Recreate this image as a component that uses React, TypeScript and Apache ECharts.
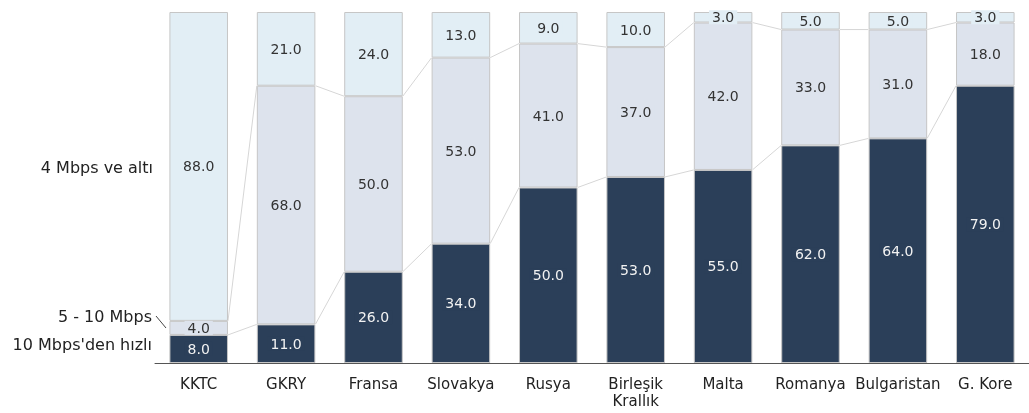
import React, { useEffect, useRef } from "react";
import * as echarts from "echarts";

const categories = ["KKTC", "GKRY", "Fransa", "Slovakya", "Rusya", "Birleşik\nKrallık", "Malta", "Romanya", "Bulgaristan", "G. Kore"];
const fast = [8, 11, 26, 34, 50, 53, 55, 62, 64, 79];
const medium = [4, 68, 50, 53, 41, 37, 42, 33, 31, 18];
const slow = [88, 21, 24, 13, 9, 10, 3, 5, 5, 3];
const seriesNames = ["10 Mbps'den hızlı", "5 - 10 Mbps", "4 Mbps ve altı"];

const FONT = "DejaVu Sans";
const DARK = "#2B3F59";
const MID = "#DDE3ED";
const LIGHT = "#E2EEF5";

export default function App() {
  const ref = useRef<HTMLDivElement>(null);
  useEffect(() => {
    const chart = echarts.init(ref.current!, undefined, { renderer: "svg" });
    const barFrac = 0.67;
    const mkLabel = (bg: string, color: string) => ({
      show: true,
      position: "inside",
      formatter: (p: any) => Number(p.value).toFixed(1),
      fontFamily: FONT,
      fontSize: 14,
      color,
      backgroundColor: bg,
      padding: [0, 3],
    });
    const barStyle = (c: string) => ({ color: c, borderColor: "#C6C6C6", borderWidth: 1 });
    const connectors = categories.slice(0, -1).map((_, i) => [i]);
    chart.setOption({
      animation: false,
      grid: { left: 155, top: 12, width: 882, height: 351 },
      xAxis: {
        type: "category",
        data: categories,
        axisLine: { lineStyle: { color: "#555", width: 1 } },
        axisTick: { show: false },
        axisLabel: { fontFamily: FONT, fontSize: 15, color: "#222", margin: 12, lineHeight: 17, interval: 0 },
      },
      yAxis: { type: "value", min: 0, max: 100, show: false },
      series: [
        { name: seriesNames[0], type: "bar", stack: "a", barWidth: "67%", data: fast, itemStyle: barStyle(DARK), label: mkLabel(DARK, "#F2F2F2") },
        { name: seriesNames[1], type: "bar", stack: "a", barWidth: "67%", data: medium, itemStyle: barStyle(MID), label: mkLabel(MID, "#333") },
        { name: seriesNames[2], type: "bar", stack: "a", barWidth: "67%", data: slow, itemStyle: barStyle(LIGHT), label: mkLabel(LIGHT, "#333") },
        {
          type: "custom",
          silent: true,
          data: connectors,
          encode: { x: 0 },
          renderItem: (params: any, api: any) => {
            const i = api.value(0);
            const half = (api.size([1, 0])[0] * barFrac) / 2;
            const a = [fast[i], fast[i] + medium[i]];
            const b = [fast[i + 1], fast[i + 1] + medium[i + 1]];
            return {
              type: "group",
              children: [0, 1].map((k) => {
                const p1 = api.coord([i, a[k]]);
                const p2 = api.coord([i + 1, b[k]]);
                return {
                  type: "line",
                  shape: { x1: p1[0] + half, y1: p1[1], x2: p2[0] - half, y2: p2[1] },
                  style: { stroke: "#D6D6D6", lineWidth: 1 },
                };
              }),
            };
          },
        },
      ],
      graphic: [
        { type: "text", right: 1029 - 153, top: 159, style: { text: seriesNames[2], font: `16px "${FONT}"`, fill: "#222", textAlign: "right" } },
        { type: "text", right: 1029 - 152, top: 308, style: { text: seriesNames[1], font: `16px "${FONT}"`, fill: "#222", textAlign: "right" } },
        { type: "text", right: 1029 - 152, top: 336, style: { text: seriesNames[0], font: `16px "${FONT}"`, fill: "#222", textAlign: "right" } },
        { type: "line", shape: { x1: 156, y1: 316, x2: 166, y2: 328 }, style: { stroke: "#444", lineWidth: 1 } },
      ],
    });
    return () => chart.dispose();
  }, []);
  return <div ref={ref} style={{ position: "fixed", left: 0, top: 0, width: 1029, height: 413 }} />;
}
